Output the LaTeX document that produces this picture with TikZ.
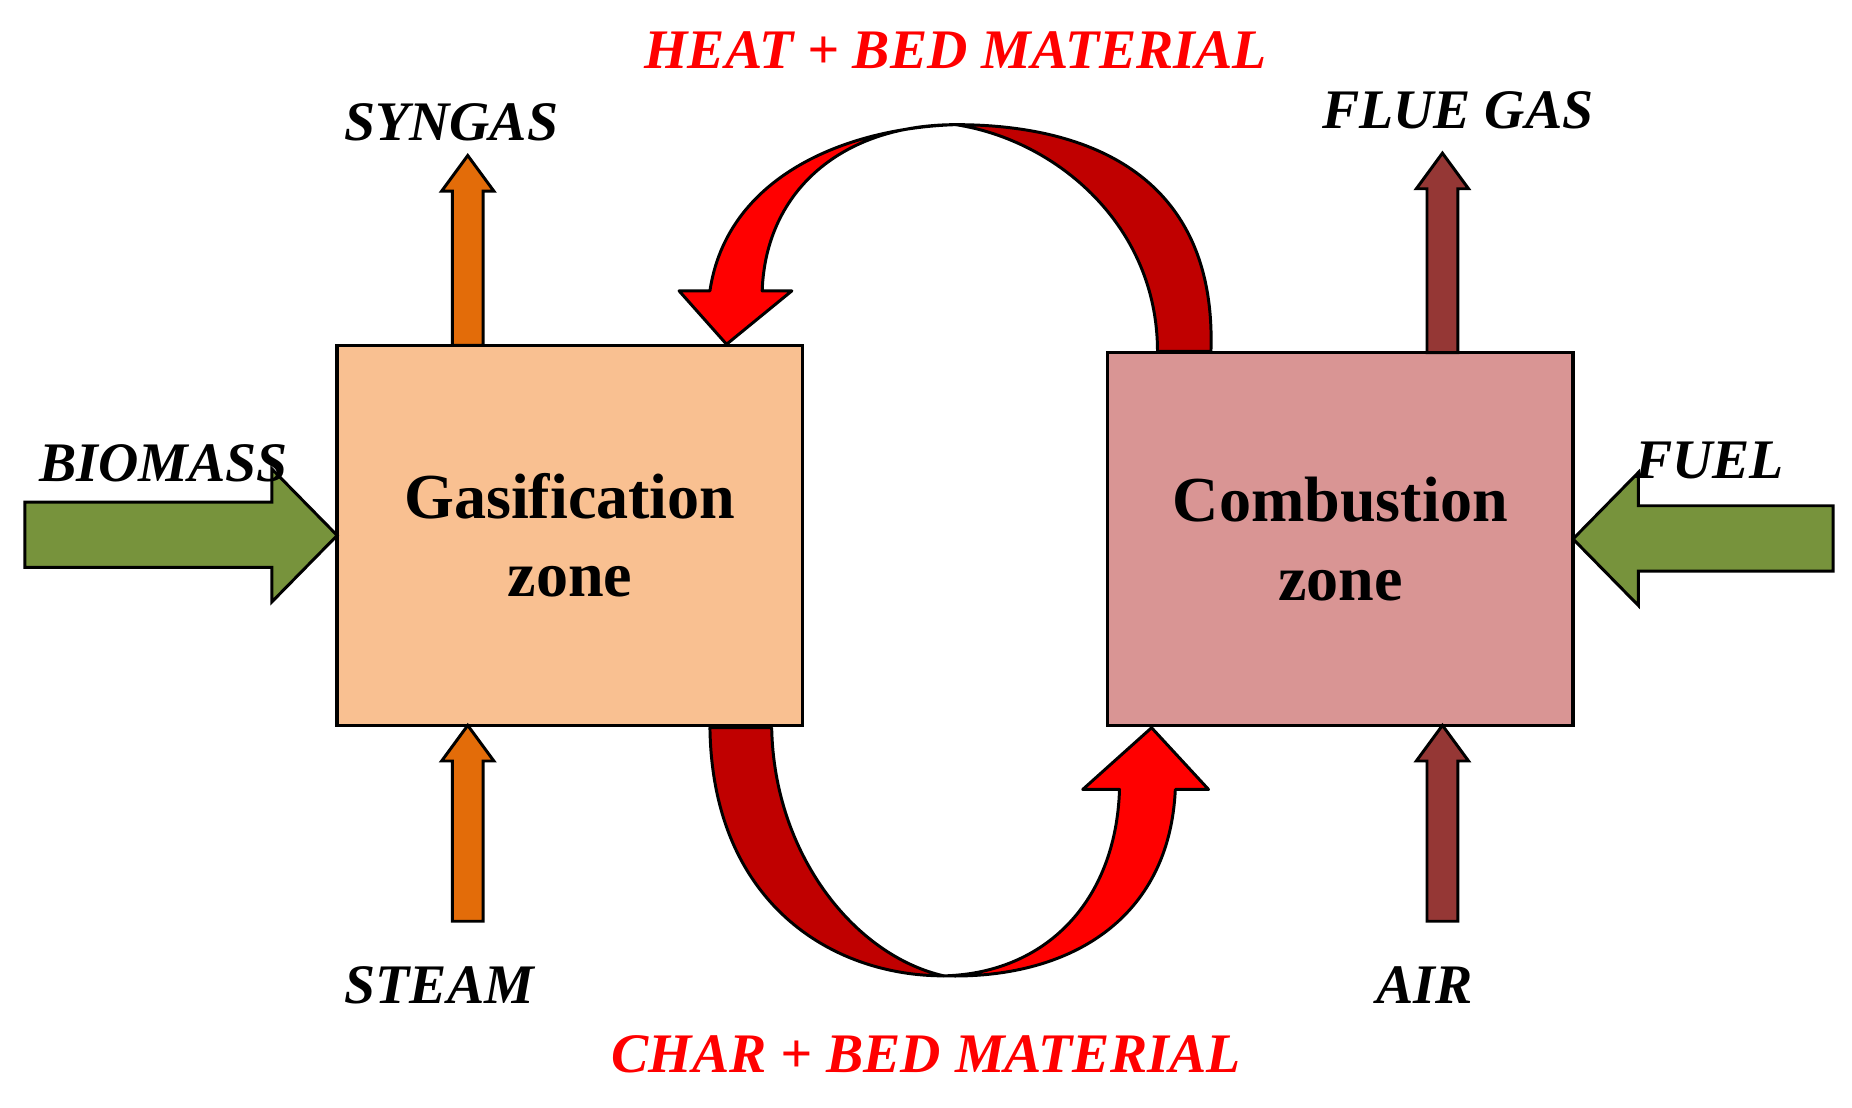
\documentclass[tikz,border=0pt]{standalone}
\usepackage{fontspec}
\setmainfont{Liberation Serif}
\usetikzlibrary{positioning, calc}
\definecolor{gasfill}{HTML}{F9C091}
\definecolor{combfill}{HTML}{D99594}
\definecolor{feedgreen}{HTML}{77933C}
\definecolor{steamorange}{HTML}{E36C09}
\definecolor{airbrown}{HTML}{953735}
\definecolor{loopdark}{HTML}{C00000}
\definecolor{loopred}{HTML}{FF0000}
\begin{document}
\begin{tikzpicture}[x=1pt, y=-1pt,
    zone/.style={draw, line width=3pt, outer sep=0pt, minimum width=392pt, anchor=north west, align=center, font=\fontsize{54}{66}\selectfont\bfseries},
    flow/.style={draw, line width=2.5pt, line join=miter},
    lbl/.style={font=\fontsize{47}{54}\selectfont\bfseries\itshape},
    loop/.style={draw, line width=2.5pt, line join=round}
]
    \useasboundingbox (0,0) rectangle (1560,933);
    % zones
    \node[zone, fill=gasfill, minimum height=320pt] (gas) at (284,291) {Gasification\\zone};
    \node[zone, fill=combfill, minimum height=314pt] (comb) at (933,297) {Combustion\\zone};

    % side feeds
    \draw[flow, fill=feedgreen] (gas.west) -- ++(-55,-56) -- ++(0,28) -- ++(-208,0) -- ++(0,55) -- ++(208,0) -- ++(0,29) -- cycle;
    \draw[flow, fill=feedgreen] (comb.east) -- ++(55,-56) -- ++(0,28) -- ++(164,0) -- ++(0,55) -- ++(-164,0) -- ++(0,29) -- cycle;

    % vertical streams
    \coordinate (syn) at ($(gas.north west)+(110,0)$);
    \draw[flow, fill=steamorange] (syn) ++(-13,0) -- ++(0,-130) -- ++(-9,0) -- ++(22,-30) -- ++(22,30) -- ++(-9,0) -- ++(0,130) -- cycle;
    \coordinate (stm) at ($(gas.south west)+(110,0)$);
    \draw[flow, fill=steamorange] (stm) -- ++(22,30) -- ++(-9,0) -- ++(0,135) -- ++(-26,0) -- ++(0,-135) -- ++(-9,0) -- cycle;
    \coordinate (flu) at ($(comb.north west)+(282,0)$);
    \draw[flow, fill=airbrown] (flu) ++(-13,0) -- ++(0,-138) -- ++(-9,0) -- ++(22,-30) -- ++(22,30) -- ++(-9,0) -- ++(0,138) -- cycle;
    \coordinate (air) at ($(comb.south west)+(282,0)$);
    \draw[flow, fill=airbrown] (air) -- ++(22,30) -- ++(-9,0) -- ++(0,135) -- ++(-26,0) -- ++(0,-135) -- ++(-9,0) -- cycle;

    % circulation loops
    \draw[loop, fill=loopdark] (1020,296) .. controls (1025,150) and (920,105) .. (805,105) .. controls (890,118) and (975,190) .. (975,296) -- cycle;
    \draw[loop, fill=loopred] (805,105) .. controls (710,105) and (645,160) .. (642,245) -- (667,245) -- (612,290) -- (572,245) -- (598,245) .. controls (612,150) and (710,108) .. (805,105) -- cycle;
    \draw[loop, fill=loopdark] (598,613) .. controls (600,760) and (700,822) .. (795,822) .. controls (720,805) and (652,720) .. (650,613) -- cycle;
    \draw[loop, fill=loopred] (795,822) .. controls (880,820) and (940,760) .. (943,665) -- (912,665) -- (970,613) -- (1018,665) -- (990,665) .. controls (985,775) and (900,825) .. (795,822) -- cycle;

    % labels
    \node[lbl] (syngas) at (380,103) {SYNGAS};
    \node[lbl] (steam) at (370,830) {STEAM};
    \node[lbl] (fluegas) at (1228,93) {FLUE GAS};
    \node[lbl] (airlbl) at (1200,830) {AIR};
    \node[lbl] (biomass) at (138,390) {BIOMASS};
    \node[lbl] (fuel) at (1440,388) {FUEL};
    \node[lbl, text=loopred] (heat) at (805,42) {HEAT + BED MATERIAL};
    \node[lbl, text=loopred] (char) at (780,888) {CHAR + BED MATERIAL};
\end{tikzpicture}
\end{document}
